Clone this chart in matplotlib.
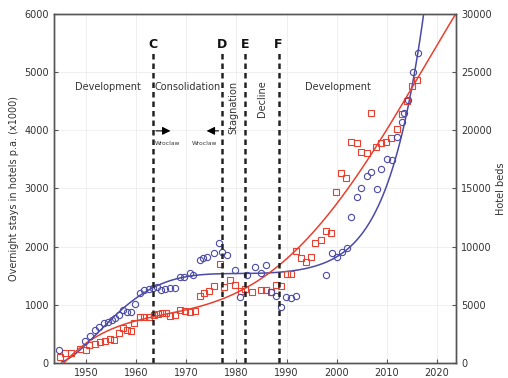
import numpy as np
import matplotlib
matplotlib.use("Agg")
import matplotlib.pyplot as plt

# --- scatter data (left-axis units) ---
stays_years = [1944.7, 1949.8, 1950.8, 1951.8, 1952.7, 1953.5, 1954.3, 1955.1, 1955.8, 1956.5,
               1957.3, 1958.1, 1958.9, 1959.8, 1960.7, 1961.5, 1962.5, 1963.3, 1964.1, 1964.9,
               1965.8, 1966.8, 1967.8, 1968.8, 1969.6, 1970.7, 1971.3, 1972.7, 1973.3, 1974.1,
               1975.5, 1976.5, 1977.1, 1978.1, 1979.8, 1980.7, 1982.1, 1983.6, 1984.9, 1985.9,
               1986.9, 1987.9, 1988.9, 1989.9, 1990.9, 1991.9, 1997.9, 1999.1, 2000.1, 2001.1,
               2002.0, 2002.9, 2004.0, 2004.9, 2006.0, 2006.9, 2008.0, 2008.9, 2010.1, 2011.1,
               2012.1, 2012.9, 2013.4, 2014.1, 2015.1, 2016.1]
stays_values = [230, 384, 464, 567, 624, 693, 710, 739, 779, 825,
                911, 882, 882, 1014, 1209, 1255, 1267, 1295, 1301, 1255,
                1273, 1295, 1295, 1473, 1473, 1553, 1513, 1771, 1800, 1828,
                1885, 2057, 1914, 1857, 1599, 1140, 1513, 1657, 1542, 1685,
                1226, 1152, 957, 1129, 1123, 1152, 1513, 1885, 1827, 1914,
                1971, 2515, 2849, 3002, 3215, 3289, 2986, 3330, 3502, 3490,
                3891, 4148, 4290, 4521, 5008, 5324]

beds_years = [1944.8, 1945.8, 1947.1, 1948.8, 1950.0, 1950.7, 1951.8, 1952.8, 1953.8, 1954.7,
              1955.6, 1956.5, 1957.3, 1958.1, 1958.9, 1959.6, 1960.7, 1961.5, 1962.5, 1963.5,
              1964.3, 1965.1, 1966.0, 1966.8, 1967.8, 1968.8, 1969.8, 1970.7, 1971.8, 1972.8,
              1973.6, 1974.5, 1975.5, 1976.7, 1977.6, 1978.8, 1979.8, 1980.9, 1981.8, 1983.1,
              1984.9, 1985.9, 1986.9, 1987.9, 1988.8, 1990.1, 1990.9, 1991.9, 1992.9, 1993.9,
              1994.9, 1995.7, 1996.8, 1997.9, 1998.9, 1999.8, 2000.8, 2001.8, 2002.8, 2004.0,
              2004.9, 2006.0, 2006.9, 2007.8, 2008.8, 2009.8, 2010.8, 2012.0, 2013.0, 2014.0,
              2014.9, 2015.9]
beds_values = [109, 178, 178, 235, 223, 309, 327, 367, 384, 407,
               396, 510, 596, 567, 556, 693, 785, 796, 796, 825,
               842, 854, 854, 808, 825, 911, 900, 882, 900, 1152,
               1198, 1243, 1324, 1702, 1312, 1427, 1341, 1243, 1267, 1226,
               1255, 1255, 1226, 1341, 1324, 1530, 1530, 1931, 1800, 1742,
               1828, 2057, 2114, 2274, 2240, 2945, 3272, 3175, 3804, 3777,
               3633, 3616, 4303, 3706, 3777, 3804, 3863, 4017, 4281, 4500,
               4762, 4865]

# --- trend lines, points ---
stays_trend_years = [1945.6, 1949.6, 1953.6, 1959.6, 1963.6, 1968.9, 1972, 1975, 1978,
                     1982, 1986, 1990, 1993, 1995, 2000, 2003.5, 2005.5, 2008.1, 2010,
                     2012.1, 2013.8, 2016.1, 2017.5]
stays_trend_values = [20, 309, 624, 1054, 1312, 1484, 1515, 1530, 1535,
                      1530, 1535, 1553, 1600, 1660, 1860, 2080, 2300, 2650, 3000,
                      3520, 4400, 5324, 6068]
beds_trend_years = [1945.6, 1949.6, 1953.6, 1959.6, 1963.6, 1968.9, 1976.8, 1982.1, 1988.1,
                    1992, 1996.8, 2000.8, 2003.5, 2008.1, 2012.8, 2024.1]
beds_trend_values = [20, 280, 510, 710, 825, 925, 1083, 1255, 1600,
                     1970, 2450, 2800, 3203, 3777, 4350, 6068]

# --- phase boundaries ---
phase_labels = ["C", "D", "E", "F"]
phase_years = [1963.3, 1977.1, 1981.8, 1988.4]

x_ticks = [1950, 1960, 1970, 1980, 1990, 2000, 2010, 2020]
left_ticks = [0, 1000, 2000, 3000, 4000, 5000, 6000]
right_ticks = [0, 5000, 10000, 15000, 20000, 25000, 30000]

blue = "#4a4aa8"
red = "#e8402f"
grey_txt = "#333333"

fig = plt.figure(figsize=(5.08, 3.78), dpi=100)
ax = fig.add_axes([0.106, 0.040, 0.792, 0.923])

ax.grid(True, color="#ececec", linewidth=0.6)
ax.set_axisbelow(True)

# trend curves (smoothed polynomial through the read points)
yc = 1980.0
t = np.linspace(1945.2, 2018.5, 300)
pb = np.polyfit(np.array(stays_trend_years) - yc, stays_trend_values, 6)
ax.plot(t, np.polyval(pb, t - yc), color=blue, lw=1.1, zorder=3)
t2 = np.linspace(1945.5, 2024.5, 300)
pr = np.polyfit(np.array(beds_trend_years) - yc, beds_trend_values, 4)
ax.plot(t2, np.polyval(pr, t2 - yc), color=red, lw=1.1, zorder=3)

ax.plot(beds_years, beds_values, ls="none", marker="s", ms=4.3, mfc="none",
        mec=red, mew=0.8, zorder=4)
ax.plot(stays_years, stays_values, ls="none", marker="o", ms=4.5, mfc="none",
        mec=blue, mew=0.8, zorder=4)

for lab, yr in zip(phase_labels, phase_years):
    ax.plot([yr, yr], [0, 5330], color="#222222", lw=1.8, ls=(0, (2.2, 1.6)), zorder=5)
    ax.text(yr, 5480, lab, ha="center", va="center", fontsize=9, fontweight="bold",
            color="#111111")

ax.text(1954.4, 4745, "Development", ha="center", va="center", fontsize=7, color=grey_txt)
ax.text(1970.3, 4745, "Consolidation", ha="center", va="center", fontsize=7, color=grey_txt)
ax.text(1979.3, 4400, "Stagnation", ha="center", va="center", fontsize=7, rotation=90,
        color=grey_txt)
ax.text(1985.0, 4540, "Decline", ha="center", va="center", fontsize=7, rotation=90,
        color=grey_txt)
ax.text(2000.2, 4745, "Development", ha="center", va="center", fontsize=7, color=grey_txt)

# Wroclaw arrows
ax.annotate("", xy=(1967.4, 3990), xytext=(1963.4, 3990),
            arrowprops=dict(arrowstyle="-|>", color="black", lw=0.8, mutation_scale=12))
ax.annotate("", xy=(1973.5, 3990), xytext=(1977.0, 3990),
            arrowprops=dict(arrowstyle="-|>", color="black", lw=0.8, mutation_scale=12))
ax.text(1966.3, 3770, "Wroclaw", ha="center", va="center", fontsize=4.3, color=grey_txt)
ax.text(1973.6, 3770, "Wroclaw", ha="center", va="center", fontsize=4.3, color=grey_txt)

ax.set_xlim(1943.6, 2023.8)
ax.set_ylim(0, 6000)
ax.set_xticks(x_ticks)
ax.set_yticks(left_ticks)
ax.tick_params(direction="in", length=3, labelsize=7, colors="#555555",
               labelcolor=grey_txt)
ax.set_ylabel("Overnight stays in hotels p.a. (x1000)", fontsize=7, color=grey_txt,
              labelpad=4)

ax2 = ax.twinx()
ax2.set_ylim(0, 30000)
ax2.set_yticks(right_ticks)
ax2.tick_params(direction="in", length=3, labelsize=7, colors="#555555",
                labelcolor=grey_txt)
ax2.set_ylabel("Hotel beds", fontsize=7, color=grey_txt, labelpad=3)

for a in (ax, ax2):
    for s in a.spines.values():
        s.set_color("#555555")
        s.set_linewidth(1.0)

fig.savefig("out.png", dpi=100)
